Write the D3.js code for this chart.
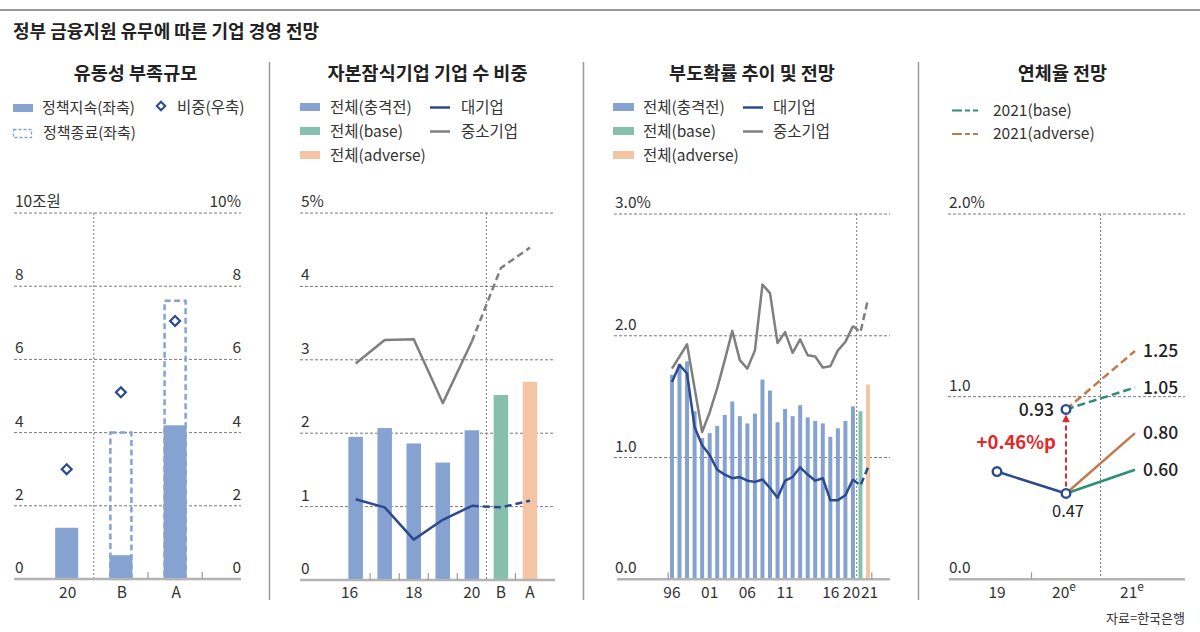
<!DOCTYPE html>
<html><head><meta charset="utf-8">
<script src="https://cdn.jsdelivr.net/npm/d3@7"></script>
<style>body{margin:0;background:#fff} svg text{font-family:"Noto Sans CJK KR","Noto Sans",sans-serif}</style>
</head><body><svg id="c" width="1200" height="632"></svg>
<script>
// ---------- DATA ----------
const p1Cats = ["20", "B", "A"];
const p1Continue = [1.4, 0.65, 4.2];     // 정책지속(좌축), 조원
const p1End = [null, 4.0, 7.6];          // 정책종료(좌축), 조원
const p1Share = [3.0, 5.1, 7.05];        // 비중(우축), %
const p1Ticks = [0, 2, 4, 6, 8, 10];

const p2Cats = ["16", "17", "18", "19", "20", "B", "A"];
const p2Total = [1.95, 2.07, 1.86, 1.60, 2.04, 2.52, 2.70];
const p2Large = [1.10, 0.99, 0.55, 0.82, 1.01, 0.99, 1.08];
const p2Sme = [2.95, 3.27, 3.28, 2.41, 3.25, 4.25, 4.53];
const p2Labels = ["16", "", "18", "", "20", "B", "A"];
const p2Ticks = [0, 1, 2, 3, 4, 5];

const p3Cats = ["1996","1997","1998","1999","2000","2001","2002","2003","2004","2005","2006","2007","2008","2009","2010","2011","2012","2013","2014","2015","2016","2017","2018","2019","2020","base","adverse"];
const p3Total = [1.68,1.77,1.79,1.38,1.16,1.20,1.26,1.35,1.46,1.34,1.28,1.36,1.64,1.55,1.29,1.40,1.34,1.43,1.33,1.30,1.28,1.17,1.24,1.30,1.42,1.38,1.60];
const p3Large = [1.62,1.76,1.69,1.25,1.10,1.02,0.90,0.86,0.83,0.84,0.81,0.80,0.82,0.75,0.67,0.81,0.84,0.92,0.86,0.81,0.83,0.65,0.65,0.69,0.82,0.77,0.92];
const p3Sme = [1.73,1.83,1.93,1.57,1.21,1.37,1.57,1.80,2.04,1.80,1.73,1.88,2.42,2.35,1.94,2.03,1.86,1.97,1.84,1.83,1.74,1.75,1.88,1.95,2.08,2.03,2.30];
const p3Labels = {"1996":"96","2001":"01","2006":"06","2011":"11","2016":"16","2020":"20","adverse":"21"};
const p3Ticks = [0, 1, 2, 3];

const p4Cats = ["19", "20", "21"];
const p4Actual = [0.59, 0.47];
const p4Base = [0.47, 0.60];
const p4Adverse = [0.47, 0.80];
const p4BaseNew = [0.93, 1.05];
const p4AdverseNew = [0.93, 1.25];
const p4Ticks = [0, 1, 2];

// ---------- STYLE ----------
const C = {blue:"#86a2d0", green:"#87bfad", orange:"#f4c5a4", navy:"#2c4a8e", gray:"#7f7f7f",
  teal:"#2b8f76", brown:"#c27a4c", red:"#e5262b", text:"#333", grid:"#7a7a7a", axis:"#b3b3b3"};

const svg = d3.select("#c");
svg.append("rect").attr("x",0).attr("y",9).attr("width",1200).attr("height",2).attr("fill","#999");
svg.append("text").attr("x",13).attr("y",38).attr("font-size",18).attr("font-weight","bold")
  .attr("fill","#222").text("정부 금융지원 유무에 따른 기업 경영 전망");
[269.5, 583.5, 918.5].forEach(x => svg.append("line").attr("x1",x).attr("x2",x).attr("y1",62).attr("y2",600)
  .attr("stroke","#9a9a9a").attr("stroke-width",1.5));

function panelTitle(x, t){
  svg.append("text").attr("x",x).attr("y",79.5).attr("text-anchor","middle").attr("font-size",18.5)
    .attr("font-weight","bold").attr("fill","#222").text(t);
}
function legText(x, y, t, fs){
  svg.append("text").attr("x",x).attr("y",y+5.5).attr("font-size",fs || 15.5).attr("fill",C.text).text(t);
}
function grid(y, ticks, x0, x1, fmtL, fmtR){
  const g = svg.append("g");
  ticks.forEach(t => {
    if (t !== 0) g.append("line").attr("x1",x0).attr("x2",x1).attr("y1",y(t)).attr("y2",y(t))
      .attr("stroke",C.grid).attr("stroke-width",1).attr("stroke-dasharray","3,2");
    g.append("text").attr("x",x0+1).attr("y",y(t)-6).attr("font-size",15.5).attr("fill",C.text).text(fmtL(t));
    if (fmtR) g.append("text").attr("x",x1).attr("y",y(t)-6).attr("text-anchor","end")
      .attr("font-size",15.5).attr("fill",C.text).text(fmtR(t));
  });
}
function baseline(y0, x0, x1){
  svg.append("line").attr("x1",x0).attr("x2",x1).attr("y1",y0).attr("y2",y0)
    .attr("stroke",C.axis).attr("stroke-width",2.5);
}
function tick(x, y0){
  svg.append("line").attr("x1",x).attr("x2",x).attr("y1",y0-7).attr("y2",y0).attr("stroke","#999").attr("stroke-width",1.2);
}
function vsep(x, yTop, y0){
  svg.append("line").attr("x1",x).attr("x2",x).attr("y1",yTop).attr("y2",y0)
    .attr("stroke",C.grid).attr("stroke-width",1).attr("stroke-dasharray","2,2");
}
function xLabel(x, t, sup){
  const tx = svg.append("text").attr("x",x).attr("y",598).attr("text-anchor","middle")
    .attr("font-size",15.5).attr("fill",C.text).text(t);
  if (sup) tx.append("tspan").attr("font-size",12).attr("dy",-7).text(sup);
}

// ---------- PANEL 1 ----------
panelTitle(135.5, "유동성 부족규모");
svg.append("rect").attr("x",13).attr("y",104).attr("width",20).attr("height",8).attr("fill",C.blue);
legText(42, 107.5, "정책지속(좌축)", 15);
svg.append("rect").attr("x",158).attr("y",103).attr("width",6).attr("height",6)
  .attr("transform","rotate(45 161 106)").attr("fill","#fff").attr("stroke",C.navy).attr("stroke-width",2);
legText(177, 107.5, "비중(우축)", 15.5);
svg.append("rect").attr("x",13.5).attr("y",129.5).attr("width",18).attr("height",8).attr("fill","none")
  .attr("stroke",C.blue).attr("stroke-width",1.3).attr("stroke-dasharray","3,2");
legText(43, 132.5, "정책종료(좌축)", 15);

const y1 = d3.scaleLinear().domain([0,10]).range([579,213]);
const x1 = d3.scaleBand().domain(p1Cats).range([39.6,202.2]).paddingInner(0.575).paddingOuter(0.2875);
grid(y1, p1Ticks, 14, 241, t => t===10 ? "10조원" : String(t), t => t===10 ? "10%" : String(t));
const bd1 = i => 39.6 + i*x1.step();
vsep(bd1(1), 213, 579);
p1Cats.forEach((c,i) => {
  if (p1End[i] != null) svg.append("rect").attr("x",x1(c)+1).attr("width",x1.bandwidth()-2)
    .attr("y",y1(p1End[i])).attr("height",y1(0)-y1(p1End[i])).attr("fill","none")
    .attr("stroke",C.blue).attr("stroke-width",2.5).attr("stroke-dasharray","6,3.5");
  svg.append("rect").attr("x",x1(c)).attr("width",x1.bandwidth()).attr("y",y1(p1Continue[i]))
    .attr("height",y1(0)-y1(p1Continue[i])).attr("fill",C.blue);
});
baseline(579, 14, 241);
tick(bd1(2), 579); tick(bd1(3), 579);
p1Cats.forEach((c,i) => {
  const cx = x1(c)+x1.bandwidth()/2, cy = y1(p1Share[i]);
  svg.append("rect").attr("x",cx-3.5).attr("y",cy-3.5).attr("width",7).attr("height",7)
    .attr("transform",`rotate(45 ${cx} ${cy})`).attr("fill","#fff").attr("stroke",C.navy).attr("stroke-width",2.2);
  xLabel(cx + 1, c);
});

// ---------- PANEL 2 ----------
panelTitle(427.5, "자본잠식기업 기업 수 비중");
[[C.blue,"전체(충격전)"],[C.green,"전체(base)"],[C.orange,"전체(adverse)"]].forEach((d,i) => {
  svg.append("rect").attr("x",300).attr("y",103+i*24).attr("width",20).attr("height",8).attr("fill",d[0]);
  legText(330, 107+i*24, d[1]);
});
[[C.navy,"대기업"],[C.gray,"중소기업"]].forEach((d,i) => {
  svg.append("line").attr("x1",430).attr("x2",450).attr("y1",107.5+i*24).attr("y2",107.5+i*24)
    .attr("stroke",d[0]).attr("stroke-width",2.5);
  legText(461, 107+i*24, d[1]);
});
const y2 = d3.scaleLinear().domain([0,5]).range([580,213]);
const x2 = d3.scaleBand().domain(p2Cats).range([341.1,544.5]).paddingInner(0.5).paddingOuter(0.25);
grid(y2, p2Ticks, 300, 555, t => t===5 ? "5%" : String(t));
const bd2 = i => 341.1 + i*x2.step();
vsep(bd2(5), 213, 580);
p2Cats.forEach((c,i) => {
  svg.append("rect").attr("x",x2(c)).attr("width",x2.bandwidth()).attr("y",y2(p2Total[i]))
    .attr("height",y2(0)-y2(p2Total[i])).attr("fill", i<5 ? C.blue : (i===5 ? C.green : C.orange));
});
baseline(580, 300, 555);
[1,2,3,4,6].forEach(i => tick(bd2(i), 580));
p2Cats.forEach((c,i) => { if (p2Labels[i]) xLabel(x2(c)+x2.bandwidth()/2 + (c==="16" ? -6 : 0), p2Labels[i]); });
const cx2 = c => x2(c)+x2.bandwidth()/2;
function twoPartLine(xf, y, cats, vals, splitIdx, color, dash){
  const line = d3.line().x(d=>xf(cats[d])).y(d=>y(vals[d]));
  const solidIdx = d3.range(0, splitIdx+1), dashIdx = d3.range(splitIdx, cats.length);
  svg.append("path").attr("d", line(solidIdx)).attr("fill","none").attr("stroke",color).attr("stroke-width",2.5).attr("stroke-linejoin","round");
  svg.append("path").attr("d", line(dashIdx)).attr("fill","none").attr("stroke",color).attr("stroke-width",2.5).attr("stroke-dasharray",dash);
}
twoPartLine(cx2, y2, p2Cats, p2Sme, 4, C.gray, "7,4");
twoPartLine(cx2, y2, p2Cats, p2Large, 4, C.navy, "7,4");

// ---------- PANEL 3 ----------
panelTitle(752, "부도확률 추이 및 전망");
[[C.blue,"전체(충격전)"],[C.green,"전체(base)"],[C.orange,"전체(adverse)"]].forEach((d,i) => {
  svg.append("rect").attr("x",613).attr("y",103+i*24).attr("width",21).attr("height",8).attr("fill",d[0]);
  legText(643, 107+i*24, d[1]);
});
[[C.navy,"대기업"],[C.gray,"중소기업"]].forEach((d,i) => {
  svg.append("line").attr("x1",743).attr("x2",763).attr("y1",107.5+i*24).attr("y2",107.5+i*24)
    .attr("stroke",d[0]).attr("stroke-width",2.5);
  legText(773, 107+i*24, d[1]);
});
const y3 = d3.scaleLinear().domain([0,3]).range([579.3,214]);
const x3 = d3.scaleBand().domain(p3Cats).range([668.2,871.8]).paddingInner(0.47).paddingOuter(0.235);
grid(y3, p3Ticks, 614, 890, t => t===3 ? "3.0%" : t.toFixed(1));
const bd3 = i => 668.2 + i*x3.step();
vsep(bd3(25), 214, 579.3);
p3Cats.forEach((c,i) => {
  svg.append("rect").attr("x",x3(c)).attr("width",x3.bandwidth()).attr("y",y3(p3Total[i]))
    .attr("height",y3(0)-y3(p3Total[i])).attr("fill", i<25 ? C.blue : (i===25 ? C.green : C.orange));
});
baseline(579.3, 617, 890);
tick(bd3(0), 579.3); tick(bd3(27), 579.3);
const cx3 = c => x3(c)+x3.bandwidth()/2;
const p3dx = {"2016": 8, "2020": -1.5, "adverse": 1.5};
p3Cats.forEach(c => { if (p3Labels[c]) xLabel(cx3(c) + (p3dx[c] || 0), p3Labels[c]); });
twoPartLine(cx3, y3, p3Cats, p3Sme, 24, C.gray, "7,4");
twoPartLine(cx3, y3, p3Cats, p3Large, 24, C.navy, "7,4");

// ---------- PANEL 4 ----------
panelTitle(1062.5, "연체율 전망");
[[C.teal,"2021(base)"],[C.brown,"2021(adverse)"]].forEach((d,i) => {
  svg.append("line").attr("x1",952).attr("x2",982).attr("y1",110.5+i*23.5).attr("y2",110.5+i*23.5)
    .attr("stroke",d[0]).attr("stroke-width",2.2).attr("stroke-dasharray","10,3,5,3,5");
  legText(993, 110+i*23.5, d[1]);
});
const y4 = d3.scaleLinear().domain([0,2]).range([579.3,214]);
const x4 = d3.scalePoint().domain(p4Cats).range([997,1135]);
grid(y4, p4Ticks, 948, 1185, t => t===2 ? "2.0%" : t.toFixed(1));
vsep((x4("20")+x4("21"))/2, 214, 579.3);
baseline(579.3, 949, 1185);
tick((x4("19")+x4("20"))/2, 579.3);
xLabel(x4("19"), "19"); xLabel(x4("20")-2, "20", "e"); xLabel(x4("21")-3, "21", "e");

const seg = (cats, vals) => d3.line().x((d,i)=>x4(cats[i])).y(d=>y4(d))(vals);
svg.append("path").attr("d", seg(["20","21"], p4Base)).attr("fill","none").attr("stroke",C.teal).attr("stroke-width",2.5);
svg.append("path").attr("d", seg(["20","21"], p4Adverse)).attr("fill","none").attr("stroke",C.brown).attr("stroke-width",2.5);
svg.append("path").attr("d", seg(["20","21"], p4AdverseNew)).attr("fill","none").attr("stroke",C.brown).attr("stroke-width",2.5).attr("stroke-dasharray","8,4");
svg.append("path").attr("d", seg(["20","21"], p4BaseNew)).attr("fill","none").attr("stroke",C.teal).attr("stroke-width",2.5).attr("stroke-dasharray","8,4");
svg.append("path").attr("d", seg(["19","20"], p4Actual)).attr("fill","none").attr("stroke",C.navy).attr("stroke-width",2.5);
// red arrow
svg.append("defs").append("marker").attr("id","ah").attr("viewBox","0 0 10 10").attr("refX",5).attr("refY",5)
  .attr("markerWidth",4).attr("markerHeight",4).attr("orient","auto")
  .append("path").attr("d","M0,0L10,5L0,10z").attr("fill",C.red);
svg.append("line").attr("x1",x4("20")).attr("x2",x4("20")).attr("y1",y4(p4Actual[1])-7).attr("y2",y4(p4BaseNew[0])+9)
  .attr("stroke",C.red).attr("stroke-width",2).attr("stroke-dasharray","5,3").attr("marker-end","url(#ah)");
// points
[[x4("19"),p4Actual[0]],[x4("20"),p4Actual[1]],[x4("20"),p4BaseNew[0]]].forEach(d =>
  svg.append("circle").attr("cx",d[0]).attr("cy",y4(d[1])).attr("r",4.3).attr("fill","#fff")
    .attr("stroke",C.navy).attr("stroke-width",2.4));
const vLab = (x, v, anchor, w, dy) => svg.append("text").attr("x",x).attr("y",y4(v)+dy).attr("text-anchor",anchor)
  .attr("font-size",17.5).attr("font-weight",w).attr("fill","#222").text(v.toFixed(2));
vLab(x4("21")+8, p4AdverseNew[1], "start", 500, 6);
vLab(x4("21")+8, p4BaseNew[1], "start", 500, 6);
vLab(x4("21")+8, p4Adverse[1], "start", 500, 6);
vLab(x4("21")+8, p4Base[1], "start", 500, 6);
vLab(x4("20")-12, p4BaseNew[0], "end", 500, 7);
svg.append("text").attr("x",x4("20")+2).attr("y",y4(p4Actual[1])+24).attr("text-anchor","middle")
  .attr("font-size",16.5).attr("fill","#222").text(p4Actual[1].toFixed(2));
svg.append("text").attr("x",1056).attr("y",449).attr("text-anchor","end").attr("font-size",18.5)
  .attr("font-weight","bold").attr("fill",C.red).text("+0.46%p");
svg.append("text").attr("x",1185).attr("y",623).attr("text-anchor","end").attr("font-size",13).attr("fill",C.text).text("자료=한국은행");
</script></body></html>
